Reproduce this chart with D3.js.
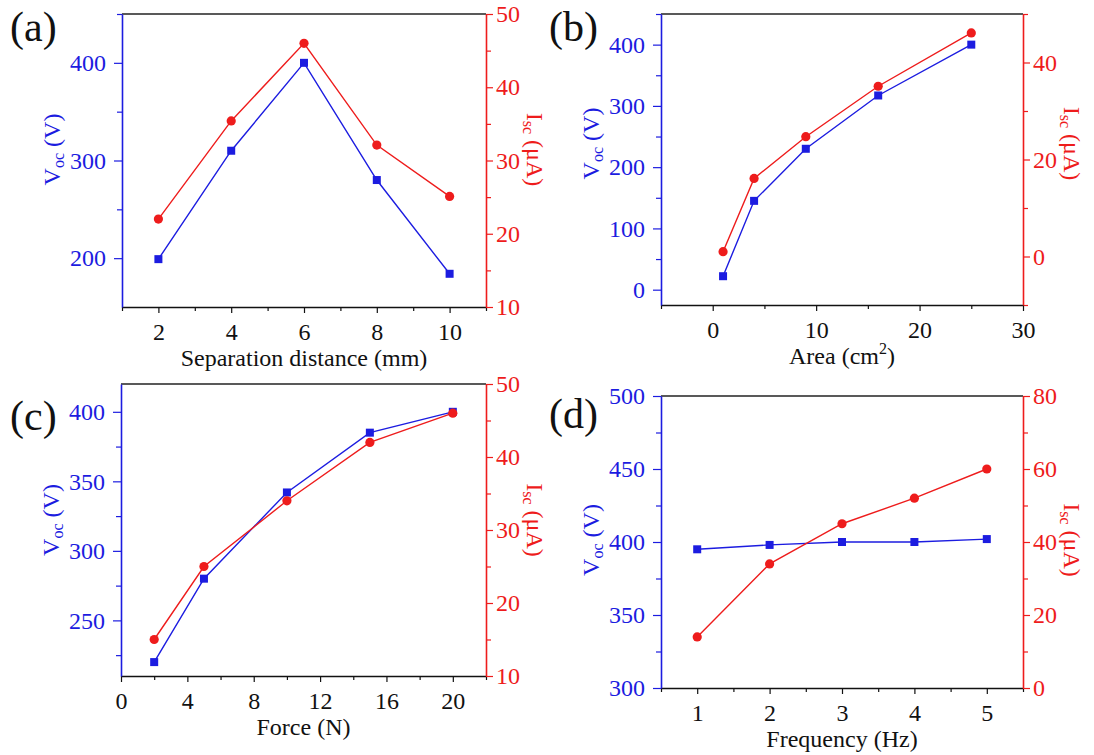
<!DOCTYPE html>
<html>
<head>
<meta charset="utf-8">
<script src="https://cdn.jsdelivr.net/npm/d3@7"></script>
<style>
  body { margin: 0; background: #fff; }
  svg { display: block; }
  svg text { font-family: "Liberation Serif", "Times New Roman", serif; }
</style>
</head>
<body>
<div class="chart"></div>
<script>
// (a) separation distance
var distX = [2, 4, 6, 8, 10];
var distVoc = [199, 310, 400, 280, 184];
var distIsc = [22, 35.4, 46, 32.1, 25.1];
var distTicks = [2, 4, 6, 8, 10];
var distMinor = [1, 3, 5, 7, 9, 11];
var distVocTicks = [200, 300, 400];
var distVocMinor = [250, 350, 450];
var distIscTicks = [10, 20, 30, 40, 50];
var distIscMinor = [15, 25, 35, 45];

// (b) area
var areaX = [1, 4, 9, 16, 25];
var areaVoc = [22, 145, 230, 317, 400];
var areaIsc = [1, 16.1, 24.7, 35.1, 46.1];
var areaTicks = [0, 10, 20, 30];
var areaMinor = [-5, 5, 15, 25];
var areaVocTicks = [0, 100, 200, 300, 400];
var areaVocMinor = [50, 150, 250, 350, 450];
var areaIscTicks = [0, 20, 40];
var areaIscMinor = [-10, 10, 30, 50];

// (c) force
var forceX = [2, 5, 10, 15, 20];
var forceVoc = [220, 280, 342, 385, 400];
var forceIsc = [15, 25, 34, 42, 46];
var forceTicks = [0, 4, 8, 12, 16, 20];
var forceMinor = [2, 6, 10, 14, 18, 22];
var forceVocTicks = [250, 300, 350, 400];
var forceVocMinor = [225, 275, 325, 375];
var forceIscTicks = [10, 20, 30, 40, 50];
var forceIscMinor = [15, 25, 35, 45];

// (d) frequency
var freqX = [1, 2, 3, 4, 5];
var freqVoc = [395, 398, 400, 400, 402];
var freqIsc = [14, 34, 45, 52, 60];
var freqTicks = [1, 2, 3, 4, 5];
var freqMinor = [0.5, 1.5, 2.5, 3.5, 4.5, 5.5];
var freqVocTicks = [300, 350, 400, 450, 500];
var freqVocMinor = [325, 375, 425, 475];
var freqIscTicks = [0, 20, 40, 60, 80];
var freqIscMinor = [10, 30, 50, 70];

var blue = "#1c1ce0", red = "#ee1c1c";
var serif = "Liberation Serif, Times New Roman, serif";
var plain = function(d) { return String(d); };

var panels = [
  {label: "(a)", lx: 10, ly: 41, left: 122, right: 486, top: 14, bottom: 307,
   xDomain: [1, 11], vDomain: [150, 450], iDomain: [10, 50],
   x: distX, v: distVoc, i: distIsc,
   xTicks: distTicks, xMinor: distMinor, vTicks: distVocTicks, vMinor: distVocMinor,
   iTicks: distIscTicks, iMinor: distIscMinor,
   xTitle: ["Separation distance (mm)"], titleDy: -11},
  {label: "(b)", lx: 549, ly: 41, left: 661, right: 1023, top: 14, bottom: 305,
   xDomain: [-5, 30], vDomain: [-25, 450], iDomain: [-10, 50],
   x: areaX, v: areaVoc, i: areaIsc,
   xTicks: areaTicks, xMinor: areaMinor, vTicks: areaVocTicks, vMinor: areaVocMinor,
   iTicks: areaIscTicks, iMinor: areaIscMinor,
   xTitle: ["Area (cm", "2", ")"], titleDy: -16},
  {label: "(c)", lx: 10, ly: 430, left: 121, right: 486, top: 384, bottom: 676,
   xDomain: [0, 22], vDomain: [210, 420], iDomain: [10, 50],
   x: forceX, v: forceVoc, i: forceIsc,
   xTicks: forceTicks, xMinor: forceMinor, vTicks: forceVocTicks, vMinor: forceVocMinor,
   iTicks: forceIscTicks, iMinor: forceIscMinor,
   xTitle: ["Force (N)"], titleDy: -10},
  {label: "(d)", lx: 549, ly: 428, left: 661, right: 1023, top: 396, bottom: 688,
   xDomain: [0.5, 5.5], vDomain: [300, 500], iDomain: [0, 80],
   x: freqX, v: freqVoc, i: freqIsc,
   xTicks: freqTicks, xMinor: freqMinor, vTicks: freqVocTicks, vMinor: freqVocMinor,
   iTicks: freqIscTicks, iMinor: freqIscMinor,
   xTitle: ["Frequency (Hz)"], titleDy: -2}
];

var svg = d3.select(".chart")
    .append("svg")
    .attr("width", 1094)
    .attr("height", 755);

function styleAxis(g, color, major) {
  g.attr("color", color)
   .attr("font-family", serif)
   .attr("font-size", 24);
  g.selectAll("text").style("font-family", serif);
  g.selectAll(".tick line").attr("stroke-width", 1.2);
  g.select(".domain").attr("stroke-width", 1.6);
  if (!major) g.select(".domain").remove();
}

panels.forEach(function(p) {
  var g = svg.append("g");

  var x = d3.scaleLinear().domain(p.xDomain).range([p.left, p.right]);
  var yV = d3.scaleLinear().domain(p.vDomain).range([p.bottom, p.top]);
  var yI = d3.scaleLinear().domain(p.iDomain).range([p.bottom, p.top]);

  // top frame
  g.append("line")
      .attr("x1", p.left).attr("x2", p.right)
      .attr("y1", p.top).attr("y2", p.top)
      .attr("stroke", "#222")
      .attr("stroke-width", 1.6);

  // minor ticks
  g.append("g").attr("transform", "translate(0," + p.bottom + ")")
      .call(d3.axisBottom(x).tickValues(p.xMinor).tickSize(4).tickSizeOuter(0).tickFormat(""))
      .call(styleAxis, "#111", false);
  g.append("g").attr("transform", "translate(" + p.left + ",0)")
      .call(d3.axisLeft(yV).tickValues(p.vMinor).tickSize(5).tickSizeOuter(0).tickFormat(""))
      .call(styleAxis, blue, false);
  g.append("g").attr("transform", "translate(" + p.right + ",0)")
      .call(d3.axisRight(yI).tickValues(p.iMinor).tickSize(5).tickSizeOuter(0).tickFormat(""))
      .call(styleAxis, red, false);

  // major axes
  g.append("g").attr("transform", "translate(0," + p.bottom + ")")
      .call(d3.axisBottom(x).tickValues(p.xTicks).tickSize(6).tickPadding(10).tickSizeOuter(0).tickFormat(plain))
      .call(styleAxis, "#111", true);
  g.append("g").attr("transform", "translate(" + p.left + ",0)")
      .call(d3.axisLeft(yV).tickValues(p.vTicks).tickSize(8).tickPadding(8).tickSizeOuter(0).tickFormat(plain))
      .call(styleAxis, blue, true);
  g.append("g").attr("transform", "translate(" + p.right + ",0)")
      .call(d3.axisRight(yI).tickValues(p.iTicks).tickSize(7).tickPadding(3).tickSizeOuter(0).tickFormat(plain))
      .call(styleAxis, red, true);

  // lines
  var vLine = d3.line().x(function(d, k) { return x(p.x[k]); }).y(function(d) { return yV(d); });
  var iLine = d3.line().x(function(d, k) { return x(p.x[k]); }).y(function(d) { return yI(d); });

  g.append("path").datum(p.v)
      .attr("d", vLine)
      .attr("fill", "none")
      .attr("stroke", blue)
      .attr("stroke-width", 1.4);
  g.append("path").datum(p.i)
      .attr("d", iLine)
      .attr("fill", "none")
      .attr("stroke", red)
      .attr("stroke-width", 1.4);

  g.selectAll(".sq").data(p.v).enter().append("rect")
      .attr("x", function(d, k) { return x(p.x[k]) - 4; })
      .attr("y", function(d) { return yV(d) - 4; })
      .attr("width", 8).attr("height", 8)
      .attr("fill", blue);
  g.selectAll(".dot").data(p.i).enter().append("circle")
      .attr("cx", function(d, k) { return x(p.x[k]); })
      .attr("cy", function(d) { return yI(d); })
      .attr("r", 4.6)
      .attr("fill", red);

  // x title
  var xt = g.append("text")
      .attr("x", (p.left + p.right) / 2)
      .attr("y", p.bottom + 59)
      .attr("text-anchor", "middle")
      .attr("font-size", 24)
      .attr("fill", "#111");
  xt.append("tspan").text(p.xTitle[0]);
  if (p.xTitle.length > 1) {
    xt.append("tspan").attr("font-size", 16).attr("dy", -10).text(p.xTitle[1]);
    xt.append("tspan").attr("dy", 10).text(p.xTitle[2]);
  }

  var cy = (p.top + p.bottom) / 2 + p.titleDy;

  // left title
  var lt = g.append("text")
      .attr("transform", "translate(" + (p.left - 62) + "," + cy + ") rotate(-90)")
      .attr("text-anchor", "middle")
      .attr("font-size", 24)
      .attr("fill", blue);
  lt.append("tspan").text("V");
  lt.append("tspan").attr("font-size", 16).attr("dy", 4).text("oc");
  lt.append("tspan").attr("dy", -4).text(" (V)");

  // right title
  var rt = g.append("text")
      .attr("transform", "translate(" + (p.right + 41) + "," + cy + ") rotate(90)")
      .attr("text-anchor", "middle")
      .attr("font-size", 24)
      .attr("fill", red);
  rt.append("tspan").text("I");
  rt.append("tspan").attr("font-size", 16).attr("dy", 4).text("sc");
  rt.append("tspan").attr("dy", -4).text(" (\u03bcA)");

  // panel label
  g.append("text")
      .attr("x", p.lx)
      .attr("y", p.ly)
      .attr("font-size", 42)
      .attr("fill", "#111")
      .text(p.label);
});
</script>
</body>
</html>
